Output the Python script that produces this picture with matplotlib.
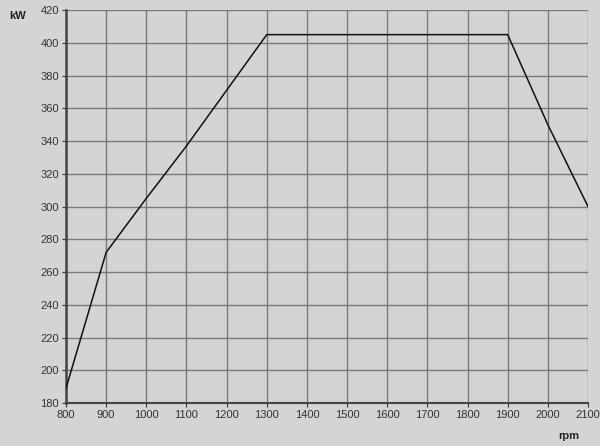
import matplotlib
matplotlib.use('Agg')
import matplotlib.pyplot as plt

# engine power curve
rpm = [800, 900, 1000, 1100, 1200, 1300, 1900, 2000, 2100]
kw = [189, 272, 305, 337, 371, 405, 405, 350, 300]
x_ticks = list(range(800, 2101, 100))
y_ticks = list(range(180, 421, 20))

plt.rcParams['font.family'] = ['Liberation Sans', 'DejaVu Sans']

bg = '#d3d5d2'
fig = plt.figure(figsize=(6, 4.46), dpi=100, facecolor=bg)
ax = fig.add_axes([0.11, 0.0964, 0.87, 0.881])
ax.set_facecolor(bg)

ax.plot(rpm, kw, color='#111111', linewidth=1.1, zorder=3)

ax.set_xlim(800, 2100)
ax.set_ylim(180, 420)
ax.set_xticks(x_ticks)
ax.set_yticks(y_ticks)
ax.grid(True, color='#7a7a7a', linewidth=1.0)
ax.set_axisbelow(True)

for s in ['top', 'right']:
    ax.spines[s].set_visible(False)
ax.spines['left'].set_color('#444444')
ax.spines['left'].set_linewidth(1.8)
ax.spines['bottom'].set_color('#444444')
ax.spines['bottom'].set_linewidth(1.5)

ax.tick_params(axis='both', labelsize=8, colors='#333333', length=3, width=0.8, pad=2)

fig.text(0.015, 0.965, 'kW', fontsize=8, fontweight='bold', color='#222222', va='center')
fig.text(0.948, 0.022, 'rpm', fontsize=8, fontweight='bold', color='#222222', va='center', ha='center')

fig.savefig('out.png', dpi=100, facecolor=bg)
